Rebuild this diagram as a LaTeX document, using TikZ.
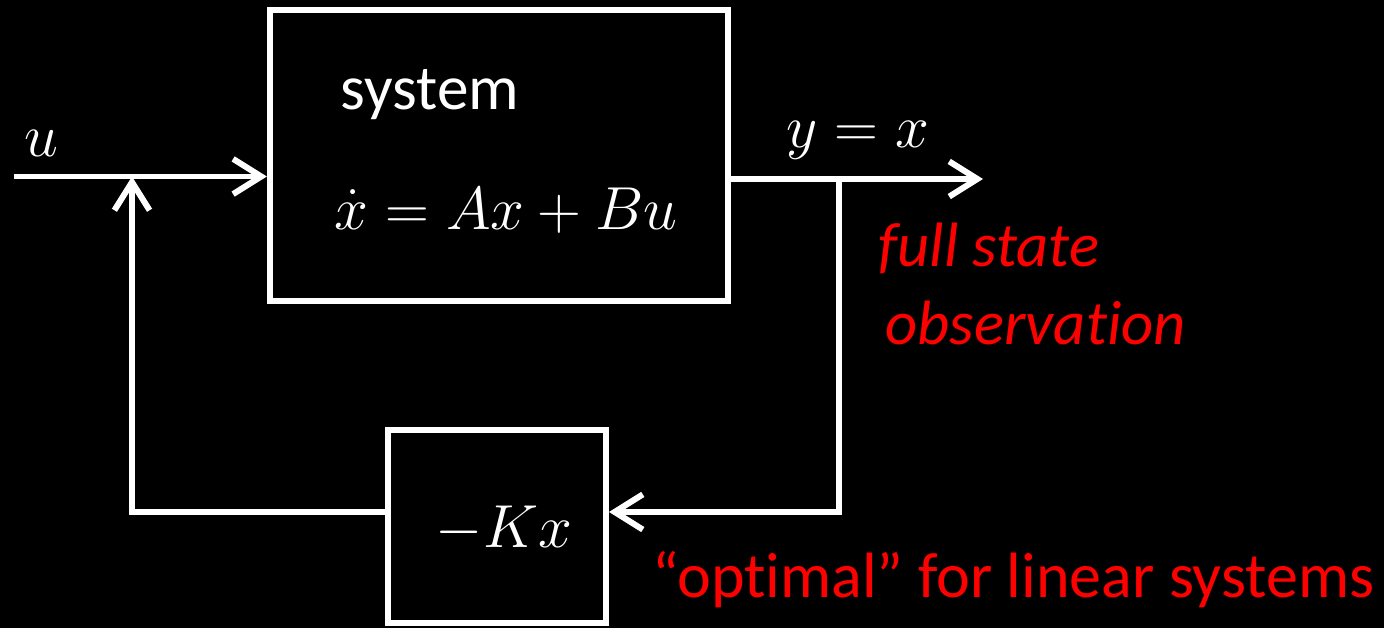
\documentclass[tikz,border=0pt]{standalone}
\usepackage{fontspec}
\setmainfont{Carlito}[Ligatures={NoCommon}]
\usepackage{tikz}
\usetikzlibrary{arrows.meta}
\definecolor{wireline}{RGB}{255,255,255}
\definecolor{notered}{RGB}{255,0,0}
\tikzset{
  block/.style={draw=wireline,line width=1.7pt,fill=black,inner sep=0pt},
  signal/.style={-{Straight Barb[length=8pt,width=10pt]},line width=1.7pt,wireline},
  mathlabel/.style={text=wireline,font=\fontsize{18pt}{22pt}\selectfont,inner sep=0pt},
  notetext/.style={text=notered,font=\fontsize{17.8pt}{21pt}\selectfont,inner sep=0pt}
}
\begin{document}
\begin{tikzpicture}[x=0.01cm,y=-0.01cm]
  \useasboundingbox (0,0) rectangle (1384,628);
  \fill[black] (0,0) rectangle (1384,628);

  \node[block,minimum width=4.58cm,minimum height=2.91cm] (sys) at (499,155.5) {};
  \node[mathlabel,anchor=base] (systxt) at (430,110) {system};
  \node[mathlabel,anchor=base] (syseq) at (506,230) {$\dot{x} = Ax + Bu$};
  \node[block,minimum width=2.18cm,minimum height=1.93cm] (gain) at (497,526.5) {};
  \node[mathlabel,anchor=base] (gaintxt) at (504,548) {$-Kx$};

  \node[mathlabel,anchor=base] (ulab) at (41,157) {$u$};
  \node[mathlabel,anchor=base] (ylab) at (858,148) {$y = x$};
  \node[notetext,anchor=base west] (obs1) at (878,267) {\itshape full state};
  \node[notetext,anchor=base west] (obs2) at (885,345) {\itshape observation};
  \node[notetext,anchor=base west,font=\fontsize{18.2pt}{22pt}\selectfont] (optim) at (652,598) {“optimal” for linear systems};

  \coordinate (uin) at (14,176.5);
  \coordinate (sum) at (132,176.5);
  \coordinate (yout) at (983,179);
  \coordinate (branch) at (839,179);
  \coordinate (fb) at (839,512);
  \coordinate (fbleft) at (132,512);

  \draw[signal] (uin) -- (uin -| sys.west);
  \draw[signal] (yout -| sys.east) -- (yout);
  \draw[signal] (branch) -- (fb) -- (fb -| gain.east);
  \draw[signal] (fb -| gain.west) -- (fbleft) -- (sum);
\end{tikzpicture}
\end{document}
